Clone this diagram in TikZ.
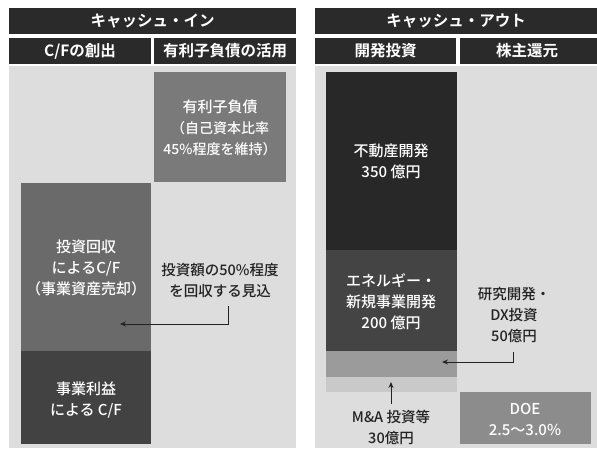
\documentclass[tikz,border=0pt]{standalone}
\usepackage{fontspec}
\setmainfont{Noto Sans CJK JP}
\newfontfamily\medfont{Noto Sans CJK JP Medium}
\newfontfamily\hbfont{Noto Sans CJK JP Bold}
\usetikzlibrary{arrows.meta,fit}
\definecolor{hdr}{HTML}{2A2A2A}
\definecolor{pan}{HTML}{DDDDDD}
\definecolor{cyuri}{HTML}{7A7A7A}
\definecolor{ctoshi}{HTML}{6A6A6A}
\definecolor{cjigyo}{HTML}{424242}
\definecolor{cfudo}{HTML}{282828}
\definecolor{cene}{HTML}{444444}
\definecolor{cbandA}{HTML}{9B9B9B}
\definecolor{cbandB}{HTML}{C9C9C9}
\definecolor{cdoe}{HTML}{8C8C8C}
\definecolor{txt}{HTML}{222222}
\begin{document}
\begin{tikzpicture}[x=1pt,y=-1pt,
  area/.style={fit={#1},inner sep=0pt,draw=none},
  htxt/.style={text=white,font=\hbfont\fontsize{15.5}{20}\selectfont,inner sep=0pt,anchor=center},
  btxt/.style={text=white,align=center,font=\medfont\fontsize{15}{21}\selectfont,inner sep=0pt,anchor=center},
  lbl/.style={text=txt,align=center,font=\medfont\fontsize{14.5}{21}\selectfont,inner sep=0pt},
  conn/.style={draw=txt,line width=0.9pt,-{Stealth[length=6pt,width=5pt]}}]
\useasboundingbox (0,0) rectangle (597,449);
\fill[white] (0,0) rectangle (597,449);
% headers
\node[area={(9,8)(296,34)},fill=hdr] (hin) {};
\node[area={(315,8)(597,34)},fill=hdr] (hout) {};
\node[area={(9,38)(151,64)},fill=hdr] (s1) {};
\node[area={(154,38)(296,64)},fill=hdr] (s2) {};
\node[area={(315,38)(456,64)},fill=hdr] (s3) {};
\node[area={(460,38)(597,64)},fill=hdr] (s4) {};
\node[htxt] (hinT) at (hin.center) {キャッシュ・イン};
\node[htxt] (houtT) at (456,21) {キャッシュ・アウト};
\node[htxt] (s1T) at (s1.center) {C/Fの創出};
\node[htxt] (s2T) at (s2.center) {有利子負債の活用};
\node[htxt] (s3T) at (s3.center) {開発投資};
\node[htxt] (s4T) at (527,51) {株主還元};
% panels
\node[area={(9,66)(296,448)},fill=pan] (pl) {};
\node[area={(315,66)(597,448)},fill=pan] (pr) {};
% left boxes
\node[area={(154,72)(286,182)},fill=cyuri] (yuri) {};
\node[area={(21,183)(151,351)},fill=ctoshi] (toshi) {};
\node[area={(21,351)(151,444)},fill=cjigyo] (jigyo) {};
\node[btxt] (yuriT) at (220,128) {有利子負債\\{\fontsize{14}{20}\selectfont（自己資本比率}\\{\fontsize{14}{20}\selectfont 45\%程度を維持）}};
\node[btxt] (toshiT) at (86,268) {投資回収\\によるC/F\\（事業資産売却）};
\node[btxt] (jigyoT) at (86,400) {事業利益\\による C/F};
% right boxes
\node[area={(326,72)(457,250)},fill=cfudo] (fudo) {};
\node[area={(326,250)(457,351)},fill=cene] (ene) {};
\node[area={(326,351)(457,377)},fill=cbandA] (bandA) {};
\node[area={(326,377)(457,392)},fill=cbandB] (bandB) {};
\node[area={(460,392)(591,444)},fill=cdoe] (doe) {};
\node[btxt] (fudoT) at (391,161) {不動産開発\\350 億円};
\node[btxt] (eneT) at (391,302) {エネルギー・\\新規事業開発\\200 億円};
\node[btxt] (doeT) at (525,419) {DOE\\2.5〜3.0\%};
% labels
\node[lbl] (t1) at (220,281) {投資額の50\%程度\\を回収する見込};
\node[lbl] (t2) at (514,315) {研究開発・\\DX投資\\50億円};
\node[lbl] (t3) at (391,427) {M\&A 投資等\\30億円};
% connectors
\coordinate (a1s) at (228,306);
\coordinate (a1e) at (120,324);
\coordinate (a2s) at (513,352);
\coordinate (a2e) at (442,362);
\coordinate (a3s) at (391,404);
\coordinate (a3e) at (391,382);
\draw[conn] (a1s) |- (a1e);
\draw[conn] (a2s) |- (a2e);
\draw[conn] (a3s) -- (a3e);
\end{tikzpicture}
\end{document}
